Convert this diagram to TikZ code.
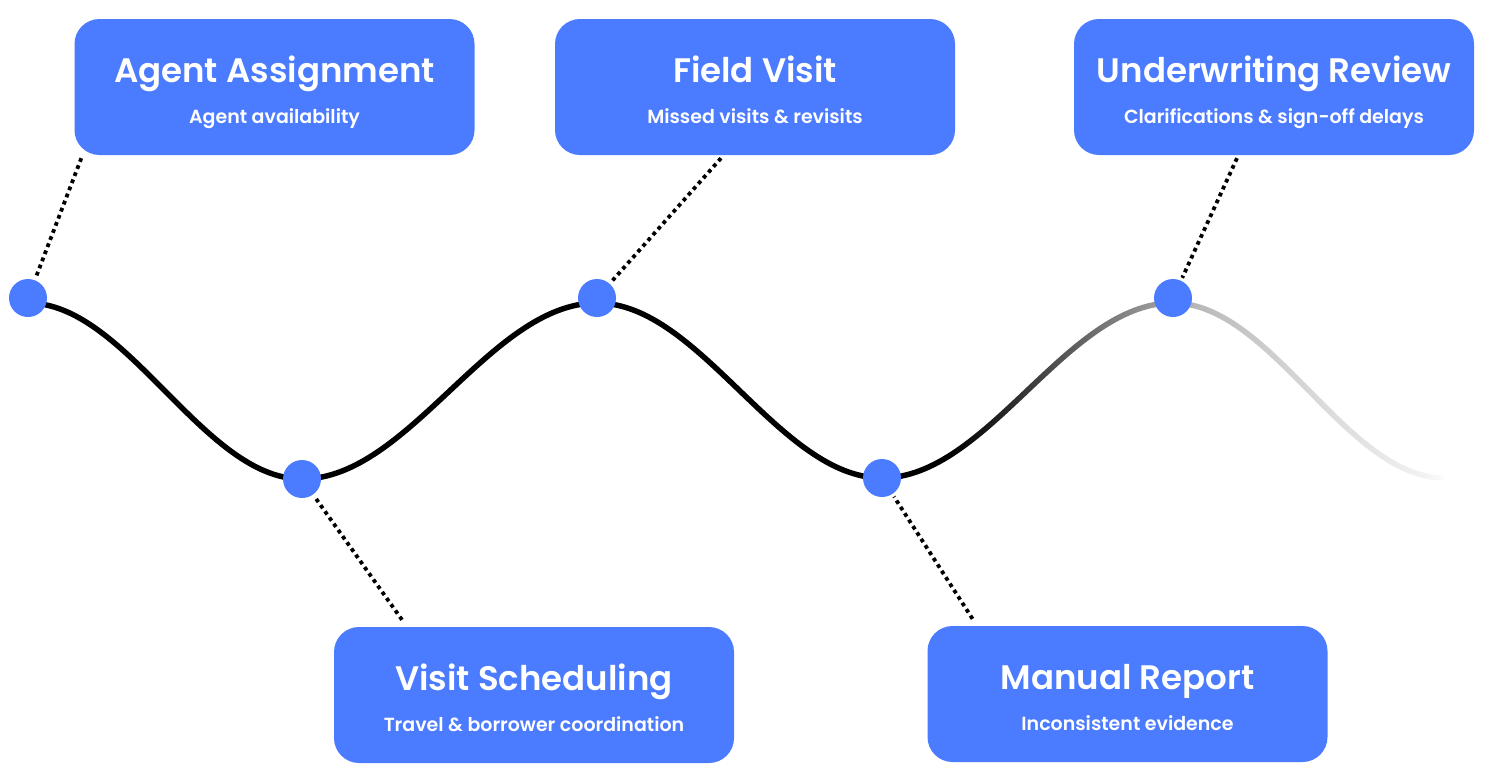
\documentclass[tikz,border=0pt]{standalone}
\usepackage{fontspec}
\setmainfont{Poppins}[BoldFont={Poppins SemiBold}]
\usetikzlibrary{fadings}
\definecolor{stepblue}{HTML}{4B7BFF}
\pgfdeclarehorizontalshading{tailshading}{100bp}{color(0bp)=(white); color(31bp)=(white);
  color(35.5bp)=(white!87!black); color(44.4bp)=(white!55!black); color(53.2bp)=(white!27!black);
  color(60.4bp)=(white!18!black); color(66.6bp)=(white!12!black); color(72.8bp)=(white!5!black);
  color(75bp)=(black); color(100bp)=(black)}
\pgfdeclarefading{tailfade}{\pgfuseshading{tailshading}}

\begin{document}
\begin{tikzpicture}[x=1pt,y=-1pt,
  box/.style={fill=stepblue, rounded corners=25pt, minimum width=400pt, minimum height=136pt, inner sep=0pt},
  head/.style={text=white, font=\bfseries\fontsize{34}{40}\selectfont, anchor=base, inner sep=0pt},
  sub/.style={text=white, font=\bfseries\fontsize{19}{24}\selectfont, anchor=base, inner sep=0pt},
  dot/.style={circle, fill=stepblue, minimum size=38pt, inner sep=0pt},
  wave/.style={line width=5.5pt, black},
  link/.style={line width=3.8pt, dash pattern=on 3.8pt off 3.8pt, shorten >=3pt}]
\useasboundingbox (0,0) rectangle (1495,782);

\node[box] (agent) at (274.5,87) {};
\node[head] at ([yshift=5pt]agent.center) {Agent Assignment};
\node[sub] at ([yshift=-36pt]agent.center) {Agent availability};
\node[box] (field) at (755,87) {};
\node[head] at ([yshift=5pt]field.center) {Field Visit};
\node[sub] at ([yshift=-36pt]field.center) {Missed visits \& revisits};
\node[box] (review) at (1274,87) {};
\node[head] at ([yshift=5pt]review.center) {Underwriting Review};
\node[sub] at ([yshift=-36pt]review.center) {Clarifications \& sign-off delays};
\node[box] (sched) at (534,695) {};
\node[head] at ([yshift=5pt]sched.center) {Visit Scheduling};
\node[sub] at ([yshift=-36pt]sched.center) {Travel \& borrower coordination};
\node[box] (report) at (1127.5,694) {};
\node[head] at ([yshift=5pt]report.center) {Manual Report};
\node[sub] at ([yshift=-36pt]report.center) {Inconsistent evidence};

% the wave
\coordinate (w1) at (28,303);
\coordinate (w2) at (302,479);
\coordinate (w3) at (597,303);
\coordinate (w4) at (882,478);
\coordinate (w5) at (1173,303);
\coordinate (tail) at (1445,478);
\draw[wave] (w1) .. controls +(99,0) and +(-99,0) .. (w2)
  .. controls +(107,0) and +(-107,0) .. (w3)
  .. controls +(103,0) and +(-103,0) .. (w4);
\draw[wave, path fading=tailfade, fit fading=true] (w4) .. controls +(106,0) and +(-106,0) .. (w5)
  .. controls +(99,0) and +(-99,0) .. (tail);

\foreach \i/\x/\y in {1/28/298, 2/302/479, 3/597/298, 4/882/478, 5/1173/298}{
\node[dot] (d\i) at (\x,\y) {};}

\draw[link] ([xshift=7pt,yshift=-3pt]agent.south west) -- (d1);
\draw[link] ([xshift=-34pt,yshift=-3pt]field.south) -- (d3);
\draw[link] ([xshift=-37pt,yshift=-3pt]review.south) -- (d5);
\draw[link] ([xshift=-132pt,yshift=7pt]sched.north) -- (d2);
\draw[link] ([xshift=-155pt,yshift=7pt]report.north) -- (d4);
\end{tikzpicture}
\end{document}
